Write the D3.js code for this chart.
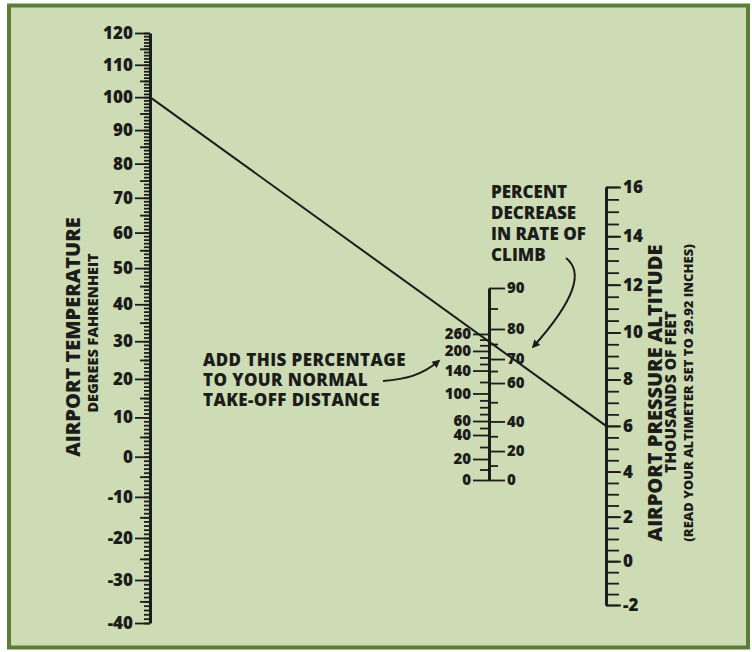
<!DOCTYPE html>
<html>
<head>
<meta charset="utf-8">
<script src="https://cdn.jsdelivr.net/npm/d3@7"></script>
<style>
    body { margin: 0; background: #ffffff; }
    text { font-family: "Open Sans", sans-serif; font-weight: 800; fill: #1c1c1a; }
</style>
</head>
<body>
<div id="chart"></div>
<script>

// airport temperature, degrees fahrenheit
var tempMin = -40, tempMax = 120;
var tempLabels = [120, 110, 100, 90, 80, 70, 60, 50, 40, 30, 20, 10, 0, -10, -20, -30, -40];

// airport pressure altitude, thousands of feet
var altMin = -2, altMax = 16;
var altLabels = [16, 14, 12, 10, 8, 6, 4, 2, 0, -2];

// centre scale (thousands of feet)
var centreMin = 0, centreMax = 14;
var takeoffLabels = [0, 20, 40, 60, 100, 140, 200, 260];
var takeoffDensityAlt = [0, 1.53, 3.28, 4.30, 6.31, 7.98, 9.41, 10.65];
var takeoffMinor = [10, 30, 50, 70, 80, 90, 120, 160, 180, 220, 240];
var climbLabels = [0, 20, 40, 60, 70, 80, 90];
var climbDensityAlt = [0, 2.11, 4.27, 7.07, 8.82, 11.01, 14];
var climbMinor = [10, 30, 50, 65, 75, 85];

// worked example drawn across the chart
var exampleTemp = 100, exampleAlt = 6;


var width = 752, height = 652;
var leftX = 150, midX = 489, rightX = 606;
var ink = "#1c1c1a";

var svg = d3.select("#chart")
    .append("svg")
    .attr("width", width)
    .attr("height", height);

// background panel with green frame
svg.append("rect")
    .attr("x", 9).attr("y", 5.5)
    .attr("width", 739).attr("height", 642)
    .attr("fill", "#cddcb5")
    .attr("stroke", "#5b7d38")
    .attr("stroke-width", 4);

// scales
// temperature is spaced on the log of absolute temperature (rankine)
var tempScale = d3.scaleLog()
    .domain([tempMin + 460, tempMax + 460])
    .range([623, 33]);

// altitude is spaced on the log of the pressure ratio
var pk = 0.0068756;
function pressureRatio(a) { return 1 - pk * a; }
var altScale = d3.scaleLog()
    .domain([pressureRatio(altMin), pressureRatio(altMax)])
    .range([605, 187]);

var centreScale = d3.scaleLinear()
    .domain([centreMin, centreMax])
    .range([480, 288]);
var takeoffScale = d3.scaleLinear()
    .domain(takeoffLabels)
    .range(takeoffDensityAlt.map(centreScale));
var climbScale = d3.scaleLinear()
    .domain(climbLabels)
    .range(climbDensityAlt.map(centreScale));

// helper to put an axis in place and style it
function addAxis(axis, x, fontSize, keepDomain) {
    var g = svg.append("g")
        .attr("transform", "translate(" + x + ",0)")
        .call(axis);
    g.attr("font-family", null).attr("font-size", fontSize + "px");
    g.selectAll(".tick line").attr("stroke", ink).attr("stroke-width", 1.8);
    g.selectAll(".tick text").attr("fill", ink);
    if (keepDomain) {
        g.select(".domain").attr("stroke", ink).attr("stroke-width", 3);
    } else {
        g.select(".domain").remove();
    }
    return g;
}

// left axis - temperature
var toR = function(t) { return t + 460; };
addAxis(d3.axisLeft(tempScale)
    .tickValues(d3.range(tempMin, tempMax + 1).map(toR))
    .tickSize(6).tickSizeOuter(0).tickFormat(""), leftX, 17, false);
addAxis(d3.axisLeft(tempScale)
    .tickValues(d3.range(tempMin + 5, tempMax, 10).map(toR))
    .tickSize(10).tickSizeOuter(0).tickFormat(""), leftX, 17, false);
addAxis(d3.axisLeft(tempScale)
    .tickValues(tempLabels.map(toR))
    .tickSize(15).tickSizeOuter(0).tickPadding(2)
    .tickFormat(function(d) { return String(Math.round(d - 460)); }), leftX, 17, true);

// right axis - pressure altitude
addAxis(d3.axisRight(altScale)
    .tickValues(d3.range(altMin, altMax + 0.01, 0.5).map(pressureRatio))
    .tickSize(13).tickSizeOuter(0).tickFormat(""), rightX, 17, false);
addAxis(d3.axisRight(altScale)
    .tickValues(altLabels.map(pressureRatio))
    .tickSize(15).tickSizeOuter(0).tickPadding(2)
    .tickFormat(function(d) { return String(Math.round((1 - d) / pk)); }), rightX, 17, true);

// centre axis - takeoff distance (left side) and rate of climb (right side)
addAxis(d3.axisRight(climbScale)
    .tickValues(climbMinor).tickSize(9).tickSizeOuter(0).tickFormat(""), midX, 15, false);
addAxis(d3.axisRight(climbScale)
    .tickValues(climbLabels).tickSize(16).tickSizeOuter(0).tickPadding(2), midX, 15, true);
addAxis(d3.axisLeft(takeoffScale)
    .tickValues(takeoffMinor).tickSize(9).tickSizeOuter(0).tickFormat(""), midX, 15, false);
addAxis(d3.axisLeft(takeoffScale)
    .tickValues(takeoffLabels).tickSize(16).tickSizeOuter(0).tickPadding(2), midX, 15, false);

// example line
svg.append("line")
    .attr("x1", leftX).attr("y1", tempScale(toR(exampleTemp)))
    .attr("x2", rightX).attr("y2", altScale(pressureRatio(exampleAlt)))
    .attr("stroke", ink)
    .attr("stroke-width", 2);

// axis titles
function rotatedText(x, y, size, txt) {
    svg.append("text")
        .attr("transform", "translate(" + x + "," + y + ") rotate(-90)")
        .attr("text-anchor", "middle")
        .attr("font-size", size + "px")
        .text(txt);
}
rotatedText(80, 337, 20, "AIRPORT TEMPERATURE");
rotatedText(98, 333, 14.5, "DEGREES FAHRENHEIT");
rotatedText(662, 393, 20, "AIRPORT PRESSURE ALTITUDE");
rotatedText(676, 392, 15.5, "THOUSANDS OF FEET");
rotatedText(693, 393, 13, "(READ YOUR ALTIMETER SET TO 29.92 INCHES)");

// notes
function note(x, y, size, gap, lines) {
    var t = svg.append("text")
        .attr("x", x).attr("y", y)
        .attr("font-size", size + "px");
    t.selectAll("tspan").data(lines).enter()
        .append("tspan")
        .attr("x", x)
        .attr("dy", function(d, i) { return i === 0 ? 0 : gap; })
        .text(function(d) { return d; });
    return t;
}
note(midX + 2, 198, 17, 21, ["PERCENT", "DECREASE", "IN RATE OF", "CLIMB"]);
note(203, 366, 17, 20, ["ADD THIS PERCENTAGE", "TO YOUR NORMAL", "TAKE-OFF DISTANCE"])
    .attr("letter-spacing", "0.4px");

// arrows pointing from the notes to the centre scale
svg.append("defs").append("marker")
    .attr("id", "arrow")
    .attr("viewBox", "0 0 10 10")
    .attr("refX", 8).attr("refY", 5)
    .attr("markerWidth", 5).attr("markerHeight", 4)
    .attr("orient", "auto")
    .append("path")
    .attr("d", "M0,0L10,5L0,10z")
    .attr("fill", ink);

var climbTip = [midX + 44, climbScale(74)];
svg.append("path")
    .attr("d", "M" + (midX + 77) + ",258 C" + (midX + 95) + ",272 " + (midX + 86) + ",300 " + climbTip[0] + "," + climbTip[1])
    .attr("fill", "none")
    .attr("stroke", ink)
    .attr("stroke-width", 2)
    .attr("marker-end", "url(#arrow)");

var takeoffTip = [midX - 50, takeoffScale(170)];
svg.append("path")
    .attr("d", "M" + (midX - 106) + ",381 C" + (midX - 84) + ",379 " + (midX - 68) + ",376 " + takeoffTip[0] + "," + takeoffTip[1])
    .attr("fill", "none")
    .attr("stroke", ink)
    .attr("stroke-width", 2)
    .attr("marker-end", "url(#arrow)");

</script>
</body>
</html>
